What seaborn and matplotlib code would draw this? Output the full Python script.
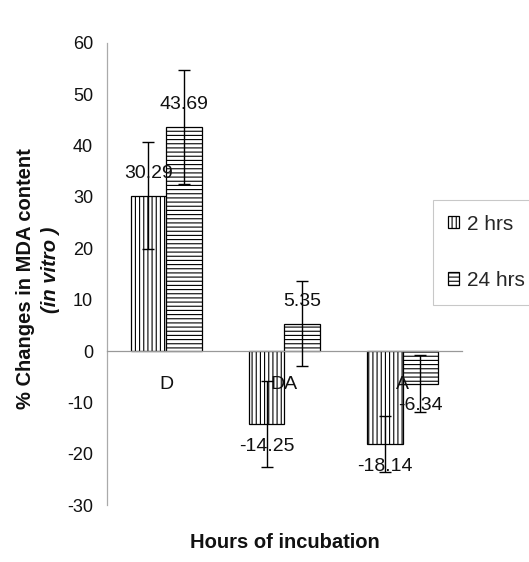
import matplotlib
matplotlib.use("Agg")
import matplotlib.pyplot as plt
import pandas as pd
import seaborn as sns

# data
treatments = ["D", "DA", "A"]
series = ["2 hrs", "24 hrs"]
vals_2h = [30.29, -14.25, -18.14]
vals_24h = [43.69, 5.35, -6.34]
err_2h = [10.4, 8.4, 5.4]
err_24h = [11.1, 8.2, 5.5]
labels_2h = ["30.29", "-14.25", "-18.14"]
labels_24h = ["43.69", "5.35", "-6.34"]
yticks = [-30, -20, -10, 0, 10, 20, 30, 40, 50, 60]

df = pd.DataFrame({
    "treatment": treatments * 2,
    "series": [series[0]] * 3 + [series[1]] * 3,
    "value": vals_2h + vals_24h,
})

sns.set_style("white")
plt.rcParams["font.family"] = ["Liberation Sans", "DejaVu Sans"]
plt.rcParams["hatch.linewidth"] = 0.8

fig = plt.figure(figsize=(5.29, 5.62), dpi=100)
ax = fig.add_axes([0.2023, 0.1014, 0.6707, 0.8221])

sns.barplot(data=df, x="treatment", y="value", hue="series", order=treatments,
            hue_order=series, palette=["white", "white"], edgecolor="black",
            linewidth=0.9, width=0.6, gap=0, ax=ax, legend=False)

hatches = ["||||", "----"]
vals = [vals_2h, vals_24h]
errs = [err_2h, err_24h]
texts = [labels_2h, labels_24h]
for cont, h, v, e, t in zip(ax.containers, hatches, vals, errs, texts):
    xs = []
    for p in cont.patches:
        p.set_hatch(h)
        xs.append(p.get_x() + p.get_width() / 2)
    ax.errorbar(xs, v, yerr=e, fmt="none", ecolor="black", elinewidth=1.0,
                capsize=4, capthick=1.0, zorder=5)
    for x, y, s in zip(xs, v, t):
        off = 16 if y >= 0 else -16
        ax.annotate(s, (x, y), xytext=(0, off), textcoords="offset points",
                    ha="center", va="center", fontsize=14, color="#111111",
                    zorder=6)

ax.set_ylim(-30, 60)
ax.set_xlim(-0.5, 2.5)
ax.set_yticks(yticks)
ax.set_yticklabels([str(v) for v in yticks], fontsize=13, color="#111111")
ax.tick_params(axis="y", length=0, pad=10)
ax.tick_params(axis="x", length=0, pad=18, labelsize=14, labelcolor="#111111")
ax.xaxis.set_zorder(4)

for side in ["top", "right"]:
    ax.spines[side].set_visible(False)
ax.spines["bottom"].set_position(("data", 0))
ax.spines["bottom"].set_color("#999999")
ax.spines["left"].set_color("#aaaaaa")
ax.spines["bottom"].set_linewidth(0.9)
ax.spines["left"].set_linewidth(0.9)

ax.set_xlabel("Hours of incubation", fontsize=14.5, fontweight="bold",
              color="#111111")
ax.xaxis.set_label_coords(0.5, -0.082)
ax.xaxis.label.set_va("center")
ax.set_ylabel("% Changes in MDA content", fontsize=14.5, fontweight="bold",
              color="#111111")
ax.yaxis.set_label_coords(-0.231, 0.49)
ax.yaxis.label.set_va("center")
ax.text(-0.16, 0.51, "(in vitro )", transform=ax.transAxes, rotation=90,
        fontsize=14.5, fontweight="bold", fontstyle="italic", color="#111111",
        ha="center", va="center")

leg = ax.legend(ax.containers, series, loc="upper left",
                bbox_to_anchor=(433 / 529, 1 - 200 / 562),
                bbox_transform=fig.transFigure, fontsize=15, frameon=True,
                fancybox=False, edgecolor="#bbbbbb", handlelength=0.55,
                handleheight=0.55, handletextpad=0.4, labelspacing=1.8,
                borderpad=0.7, borderaxespad=0)
leg.get_frame().set_linewidth(0.8)

fig.savefig("out.png", dpi=100)
